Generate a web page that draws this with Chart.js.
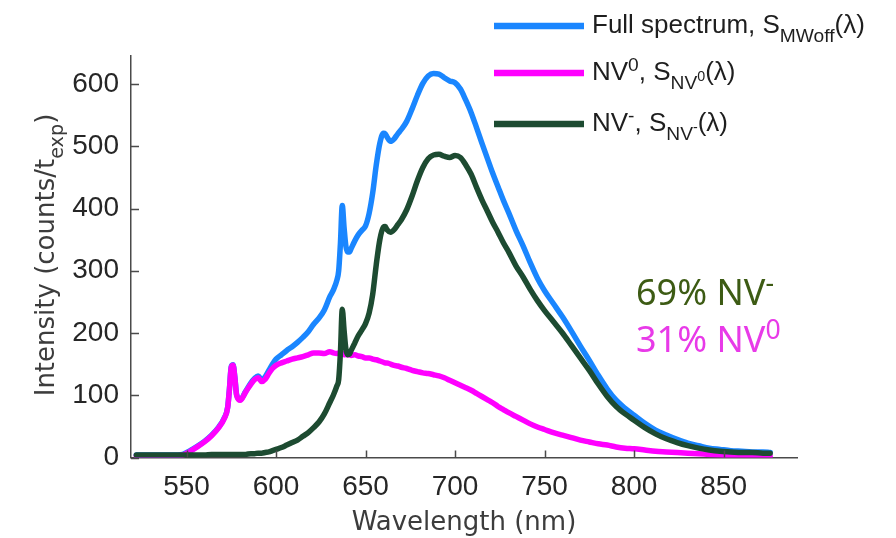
<!DOCTYPE html>
<html><head><meta charset="utf-8">
<script src="https://cdn.jsdelivr.net/npm/chart.js@4/dist/chart.umd.min.js"></script>
<style>html,body{margin:0;padding:0;background:#fff;overflow:hidden}</style>
</head><body>
<canvas id="c" width="896" height="538"></canvas>
<script>
// ---------- data ----------
const wavelengths = [522,530,540,545,548,552,556,560,564,568,571,573,574,575,576,577,578,580,583,586,588,590,592,594,596,598,600,603,606,609,612,615,618,621,624,627,630,632,634,635,636,637,638,639,640,641,642,644,646,648,650,652,654,656,658,660,661,662,664,666,668,670,673,676,679,682,685,688,691,694,697,700,703,706,709,712,715,718,721,724,727,730,734,738,742,746,750,755,760,765,770,775,780,785,790,795,800,806,812,818,824,830,836,842,848,854,860,866,872,876];
const nv0Spectrum = [3,3,3,3,4,10,17,25,35,48,62,80,110,145,148,128,100,92,105,118,125,128,122,126,135,143,148,152,155,158,160,162,165,168,168,167,170,168,167,168,166,167,165,166,165,165,164,165,163,162,160,160,158,157,155,153,152,152,150,148,147,145,143,140,138,136,135,133,131,128,124,120,116,112,108,103,98,93,88,82,77,72,66,60,54,49,45,40,36,32,28,25,22,20,17,15,14,12,10,9,8,7,6,5,4,3,3,2,2,2];
const nvMinusSpectrum = [4,4,4,4,4,4,4,4,5,5,5,5,5,5,5,5,5,5,5,6,6,7,7,8,9,11,13,16,20,24,28,34,40,48,57,70,88,100,115,125,170,238,205,175,165,166,172,184,196,205,215,232,262,310,350,370,371,366,362,366,374,382,398,420,445,466,480,486,487,484,482,485,482,470,455,434,414,396,378,362,345,330,308,290,270,252,236,218,200,180,160,140,118,98,82,70,60,48,38,30,24,19,15,12,10,9,8,8,7,7];
const fullSpectrum = [4,4,4,4,5,11,18,26,36,49,63,81,111,146,149,129,101,93,106,120,127,131,125,130,140,150,158,165,172,178,185,193,202,214,224,237,258,269,285,300,345,405,370,340,330,330,336,348,358,365,372,392,425,470,505,521,520,515,508,512,520,527,540,560,582,601,613,617,616,610,605,602,592,574,554,530,505,481,457,435,413,393,365,340,313,288,268,247,226,203,179,156,132,110,92,79,68,55,44,36,29,23,19,15,13,11,10,9,9,8];
const xTickValues = [550,600,650,700,750,800,850];
const yTickValues = [0,100,200,300,400,500,600];
const xTitle = [{t:'Wavelength (nm)'}];
const yTitle = [{t:'Intensity (counts/t'},{t:'exp',k:'sub'},{t:')'}];
const legendRows = [
  [{t:'Full spectrum, S'},{t:'MWoff',k:'sub'},{t:'(\u03bb)'}],
  [{t:'NV'},{t:'0',k:'sup'},{t:', S'},{t:'NV',k:'sub'},{t:'0',k:'subsup'},{t:'(\u03bb)'}],
  [{t:'NV'},{t:'-',k:'sup'},{t:', S'},{t:'NV',k:'sub'},{t:'-',k:'subsup'},{t:'(\u03bb)'}]
];
const annotations = [
  [{t:'69% NV'},{t:'-',k:'sup'}],
  [{t:'31% NV'},{t:'0',k:'sup'}]
];

// ---------- styles ----------
const COL_FULL = '#1a86ff', COL_NV0 = '#ff00ff', COL_NVM = '#1d4b31';
const TICK_FONT = 'Liberation Sans';

function segFont(seg, size, family) {
  const k = seg.k;
  let s = size;
  if (k === 'sub' || k === 'sup') s = size * 0.74;
  if (k === 'subsup') s = size * 0.55;
  return s.toFixed(1) + 'px "' + family + '"';
}
function segDy(seg, size) {
  if (seg.k === 'sub') return size * 0.36;
  if (seg.k === 'sup') return -size * 0.36;
  if (seg.k === 'subsup') return size * 0.04;
  return 0;
}
function richWidth(ctx, segs, size, family) {
  let w = 0;
  for (const s of segs) { ctx.font = segFont(s, size, family); w += ctx.measureText(s.t).width; }
  return w;
}
function drawRich(ctx, segs, x, y, size, family, color, align) {
  ctx.save();
  ctx.fillStyle = color;
  ctx.textBaseline = 'alphabetic';
  ctx.textAlign = 'left';
  let cx = x;
  if (align === 'center') cx = x - richWidth(ctx, segs, size, family) / 2;
  for (const s of segs) {
    ctx.font = segFont(s, size, family);
    ctx.fillText(s.t, cx, y + segDy(s, size));
    cx += ctx.measureText(s.t).width;
  }
  ctx.restore();
}

const decorPlugin = {
  id: 'decor',
  afterDraw(chart) {
    const ctx = chart.ctx, ca = chart.chartArea;
    const xs = chart.scales.x, ys = chart.scales.y;
    // inward tick marks
    ctx.save();
    ctx.strokeStyle = '#4a4a4a';
    ctx.lineWidth = 1.5;
    ctx.beginPath();
    for (const v of xTickValues) {
      const px = Math.round(xs.getPixelForValue(v)) + 0.5;
      ctx.moveTo(px, ca.bottom); ctx.lineTo(px, ca.bottom - 7);
    }
    for (const v of yTickValues) {
      const py = Math.round(ys.getPixelForValue(v)) + 0.5;
      ctx.moveTo(ca.left, py); ctx.lineTo(ca.left + 8, py);
    }
    ctx.stroke();
    ctx.restore();
    // axis titles
    drawRich(ctx, xTitle, (ca.left + ca.right) / 2, 530, 26, 'DejaVu Sans', '#3c3c3c', 'center');
    ctx.save();
    ctx.translate(54, 255);
    ctx.rotate(-Math.PI / 2);
    drawRich(ctx, yTitle, 0, 0, 26, 'DejaVu Sans', '#3c3c3c', 'center');
    ctx.restore();
    // legend
    const ds = chart.data.datasets;
    const rowsY = [26, 73, 124];
    ds.forEach((d, i) => {
      const y = rowsY[i];
      ctx.save();
      ctx.strokeStyle = d.borderColor;
      ctx.lineWidth = 6.5;
      ctx.beginPath(); ctx.moveTo(494, y); ctx.lineTo(584, y); ctx.stroke();
      ctx.restore();
      drawRich(ctx, legendRows[i], 592, y + 7, 26, 'Liberation Sans', '#1e1e1e', 'left');
    });
    // annotations
    drawRich(ctx, annotations[0], 636, 305, 36, 'Noto Sans', '#3d5b14', 'left');
    drawRich(ctx, annotations[1], 636, 352, 36, 'Noto Sans', '#e83ae8', 'left');
  }
};

const toPts = arr => wavelengths.map((x, i) => ({ x, y: arr[i] }));

new Chart(document.getElementById('c'), {
  type: 'line',
  data: {
    datasets: [
      { label: 'Full spectrum', data: toPts(fullSpectrum), borderColor: COL_FULL, borderWidth: 5.5, order: 3 },
      { label: 'NV0', data: toPts(nv0Spectrum), borderColor: COL_NV0, borderWidth: 5.5, order: 2 },
      { label: 'NV-', data: toPts(nvMinusSpectrum), borderColor: COL_NVM, borderWidth: 5.5, order: 1 }
    ]
  },
  options: {
    responsive: false,
    animation: false,
    devicePixelRatio: 1,
    layout: { padding: { top: 56, right: 99, left: 0, bottom: 0 } },
    elements: { point: { radius: 0 }, line: { cubicInterpolationMode: 'monotone', borderCapStyle: 'round', borderJoinStyle: 'round' } },
    plugins: { legend: { display: false }, tooltip: { enabled: false } },
    scales: {
      x: {
        type: 'linear', min: 519, max: 891,
        afterBuildTicks: s => { s.ticks = xTickValues.map(v => ({ value: v })); },
        afterFit: s => { s.height = 80.5; },
        grid: { display: false, drawTicks: false },
        border: { display: true, color: '#4a4a4a', width: 1.5 },
        ticks: { font: { family: TICK_FONT, size: 28 }, color: '#262626', padding: 13, maxRotation: 0, autoSkip: false }
      },
      y: {
        type: 'linear', min: 0, max: 645,
        afterBuildTicks: s => { s.ticks = yTickValues.map(v => ({ value: v })); },
        afterFit: s => { s.width = 131; },
        grid: { display: false, drawTicks: false },
        border: { display: true, color: '#4a4a4a', width: 1.5 },
        ticks: { font: { family: TICK_FONT, size: 28 }, color: '#262626', padding: 12 }
      }
    }
  },
  plugins: [decorPlugin]
});
</script>
</body></html>
